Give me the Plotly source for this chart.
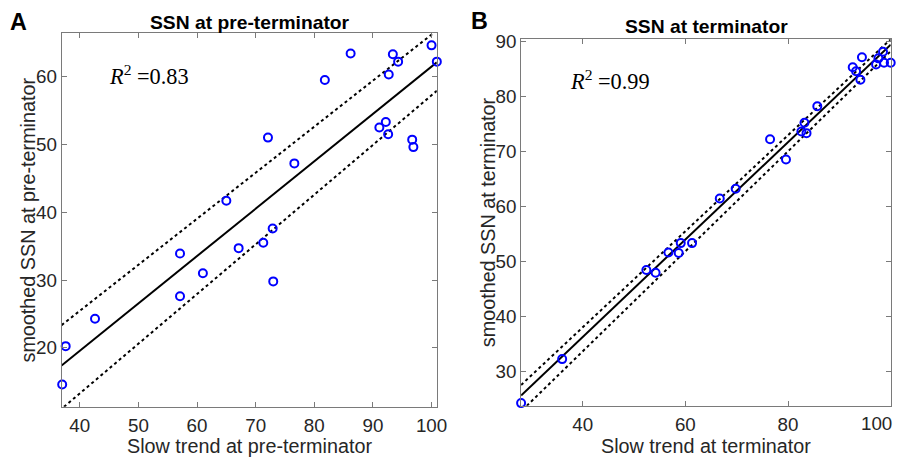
import plotly.graph_objects as go
from plotly.subplots import make_subplots

# ---------------- data ----------------
left_x = [100.0, 100.9, 86.2, 93.4, 94.3, 92.7, 81.8, 91.1, 92.2, 92.6, 96.7, 96.9, 72.1,
          76.6, 65.0, 72.9, 57.1, 42.6, 37.6, 37.0, 57.1, 61.0, 67.1, 71.3, 73.0]
left_y = [64.6, 62.2, 63.4, 63.3, 62.2, 60.3, 59.5, 52.5, 53.3, 51.5, 50.7, 49.6, 51.0,
          47.2, 41.7, 37.6, 33.9, 24.3, 20.25, 14.6, 27.6, 31.0, 34.7, 35.5, 29.8]

right_x = [28.0, 36.0, 52.4, 54.2, 56.7, 58.7, 59.1, 61.3, 66.7, 69.8, 76.5, 79.6, 82.6,
           83.2, 83.6, 85.7, 92.6, 93.25, 94.1, 94.4, 97.15, 97.6, 98.5, 98.7, 100.0]
right_y = [24.3, 32.3, 48.5, 48.0, 51.7, 51.6, 53.4, 53.4, 61.5, 63.3, 72.3, 68.6, 73.7,
           75.3, 73.4, 78.3, 85.4, 84.65, 83.1, 87.2, 85.9, 87.0, 88.2, 86.2, 86.2]

# fitted line and confidence bounds (end points)
left_fit_x = [36.9, 100.9]
left_fit_y = [17.4, 62.1]
left_up_x = [36.9, 100.9]
left_up_y = [23.35, 66.8]
left_lo_x = [37.3, 100.9]
left_lo_y = [11.3, 57.9]

right_fit_x = [28.0, 100.0]
right_fit_y = [25.7, 89.5]
right_up_x = [28.0, 100.0]
right_up_y = [27.6, 90.5]
right_lo_x = [29.1, 100.0]
right_lo_y = [23.8, 88.3]

left_xticks = [40, 50, 60, 70, 80, 90, 100]
left_yticks = [20, 30, 40, 50, 60]
right_xticks = [40, 60, 80, 100]
right_xtick_text = ["40", "60", "80", ""]   # the last label is drawn right-aligned below
right_last_label = "100"
right_yticks = [30, 40, 50, 60, 70, 80, 90]

left_r2 = "0.83"
right_r2 = "0.99"

# ---------------- figure ----------------
# the page keeps the browser's 8px body margin, so the figure is 8px smaller
OFF = 8
W, H = 904 - OFF, 457 - OFF
S = 0.9856      # photo scale seen in earlier renders
TOP = 6.6       # photo top offset seen in earlier renders

fig = make_subplots(rows=1, cols=2)

def add_panel(col, xs, ys, fx, fy, ux, uy, lx, ly):
    fig.add_trace(go.Scatter(x=ux, y=uy, mode="lines",
                             line=dict(color="black", width=2, dash="dot"),
                             showlegend=False, hoverinfo="skip"), row=1, col=col)
    fig.add_trace(go.Scatter(x=lx, y=ly, mode="lines",
                             line=dict(color="black", width=2, dash="dot"),
                             showlegend=False, hoverinfo="skip"), row=1, col=col)
    fig.add_trace(go.Scatter(x=fx, y=fy, mode="lines",
                             line=dict(color="black", width=2),
                             showlegend=False, hoverinfo="skip"), row=1, col=col)
    fig.add_trace(go.Scatter(x=xs, y=ys, mode="markers", cliponaxis=False,
                             marker=dict(symbol="circle-open", size=8, color="#0000ff",
                                         line=dict(width=2, color="#0000ff")),
                             showlegend=False), row=1, col=col)

add_panel(1, left_x, left_y, left_fit_x, left_fit_y, left_up_x, left_up_y, left_lo_x, left_lo_y)
add_panel(2, right_x, right_y, right_fit_x, right_fit_y, right_up_x, right_up_y, right_lo_x, right_lo_y)

def px(x):
    # target picture pixel -> paper fraction
    return (x / S - OFF) / W

def py(y):
    return 1 - ((y - TOP) / S - OFF) / H

def fs(size):
    return size / S

tickfont = dict(family="Liberation Sans, Arial", size=fs(18.5), color="#262626")
axis_common = dict(showgrid=False, zeroline=False, showline=True, linecolor="#7a7a7a",
                   linewidth=1, mirror="ticks", ticks="inside", ticklen=5, tickwidth=1,
                   tickcolor="#7a7a7a", tickfont=tickfont)

fig.update_layout(
    width=W, height=H, autosize=False, margin=dict(l=0, r=0, t=0, b=0),
    paper_bgcolor="white", plot_bgcolor="white",
    xaxis=dict(domain=[px(61.3), px(435.3)], range=[36.9, 100.9], tickvals=left_xticks,
               ticklabelstandoff=2, **axis_common),
    yaxis=dict(domain=[py(406.7), py(31.7)], range=[11.3, 66.4], tickvals=left_yticks, **axis_common),
    xaxis2=dict(domain=[px(519.3), px(887.7)], range=[28, 100], tickvals=right_xticks,
                ticktext=right_xtick_text, ticklabelstandoff=2, **axis_common),
    yaxis2=dict(domain=[py(405.7), py(37.7)], range=[23.8, 90.5], tickvals=right_yticks, **axis_common),
)

sans = "Liberation Sans, Arial"
ann = []
def text(x, y, s, size, bold=False, angle=0, family=sans, color="#262626", xanchor="center"):
    ann.append(dict(x=px(x), y=py(y), xref="paper", yref="paper", text=("<b>%s</b>" % s) if bold else s,
                    showarrow=False, textangle=angle, xanchor=xanchor, yanchor="middle",
                    font=dict(family=family, size=fs(size), color=color)))

text(18, 21, "A", 23, bold=True, color="black")
text(478, 20, "B", 23, bold=True, color="black")
text(248.7, 21, "SSN at pre-terminator", 19, bold=True, color="black")
text(704, 25, "SSN at terminator", 19, bold=True, color="black")
text(248.3, 446, "Slow trend at pre-terminator", 19.5)
text(704, 446, "Slow trend at terminator", 19.5)
text(28, 219.5, "smoothed SSN at pre-terminator", 19.5, angle=-90)
text(487, 221.7, "smoothed SSN at terminator", 19.5, angle=-90)
# last right-panel x tick label, kept inside the page
ann.append(dict(x=1.0, y=py(423), xref="paper", yref="paper", text=right_last_label,
                showarrow=False, xanchor="right", yanchor="middle", font=tickfont))
fig.update_layout(annotations=ann)

serif = "Liberation Serif, Times New Roman, serif"
fig.add_annotation(x=44.7, y=60.25, xref="x", yref="y", xanchor="left", yanchor="middle",
                   text="<i>R</i><sup>2</sup> =" + left_r2, showarrow=False,
                   font=dict(family=serif, size=fs(22), color="black"))
fig.add_annotation(x=37.1, y=83.0, xref="x2", yref="y2", xanchor="left", yanchor="middle",
                   text="<i>R</i><sup>2</sup> =" + right_r2, showarrow=False,
                   font=dict(family=serif, size=fs(22), color="black"))

fig.write_html("out.html", config={"displayModeBar": False})
